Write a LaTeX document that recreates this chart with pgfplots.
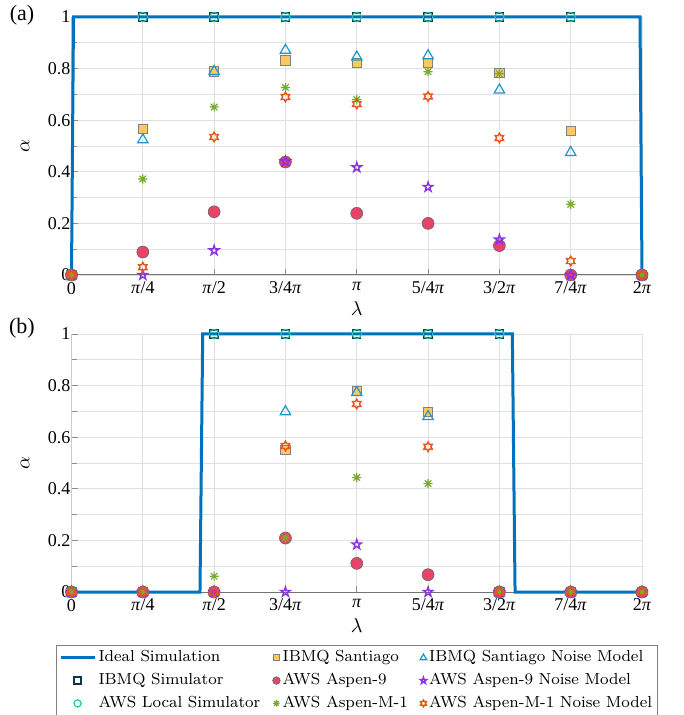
\documentclass[border=0pt]{standalone}
\usepackage{pgfplots}
\pgfplotsset{compat=1.18}
\usepackage{pgfplotstable}
\usepackage{fontspec}
\newfontfamily\tnr{Liberation Serif}

\definecolor{cideal}{RGB}{0,114,189}
\definecolor{cibmsim}{RGB}{15,55,75}
\definecolor{clocal}{RGB}{30,200,170}
\definecolor{csant}{RGB}{252,200,98}
\definecolor{csantnm}{RGB}{30,150,200}
\definecolor{caspen}{RGB}{232,67,104}
\definecolor{caspennm}{RGB}{140,50,230}
\definecolor{cm1}{RGB}{119,172,48}
\definecolor{cm1nm}{RGB}{230,85,25}

\pgfdeclareplotmark{pentagram}{%
  \pgfpathmoveto{\pgfpointpolar{90}{\pgfplotmarksize}}%
  \pgfpathlineto{\pgfpointpolar{126}{0.382\pgfplotmarksize}}%
  \pgfpathlineto{\pgfpointpolar{162}{\pgfplotmarksize}}%
  \pgfpathlineto{\pgfpointpolar{198}{0.382\pgfplotmarksize}}%
  \pgfpathlineto{\pgfpointpolar{234}{\pgfplotmarksize}}%
  \pgfpathlineto{\pgfpointpolar{270}{0.382\pgfplotmarksize}}%
  \pgfpathlineto{\pgfpointpolar{306}{\pgfplotmarksize}}%
  \pgfpathlineto{\pgfpointpolar{342}{0.382\pgfplotmarksize}}%
  \pgfpathlineto{\pgfpointpolar{18}{\pgfplotmarksize}}%
  \pgfpathlineto{\pgfpointpolar{54}{0.382\pgfplotmarksize}}%
  \pgfpathclose\pgfusepathqstroke}
\pgfdeclareplotmark{hexagram}{%
  \pgfpathmoveto{\pgfpointpolar{90}{\pgfplotmarksize}}%
  \pgfpathlineto{\pgfpointpolar{120}{0.577\pgfplotmarksize}}%
  \pgfpathlineto{\pgfpointpolar{150}{\pgfplotmarksize}}%
  \pgfpathlineto{\pgfpointpolar{180}{0.577\pgfplotmarksize}}%
  \pgfpathlineto{\pgfpointpolar{210}{\pgfplotmarksize}}%
  \pgfpathlineto{\pgfpointpolar{240}{0.577\pgfplotmarksize}}%
  \pgfpathlineto{\pgfpointpolar{270}{\pgfplotmarksize}}%
  \pgfpathlineto{\pgfpointpolar{300}{0.577\pgfplotmarksize}}%
  \pgfpathlineto{\pgfpointpolar{330}{\pgfplotmarksize}}%
  \pgfpathlineto{\pgfpointpolar{0}{0.577\pgfplotmarksize}}%
  \pgfpathlineto{\pgfpointpolar{30}{\pgfplotmarksize}}%
  \pgfpathlineto{\pgfpointpolar{60}{0.577\pgfplotmarksize}}%
  \pgfpathclose\pgfusepathqstroke}
\pgfdeclareplotmark{asteight}{%
  \pgfpathmoveto{\pgfpoint{-\pgfplotmarksize}{0pt}}\pgfpathlineto{\pgfpoint{\pgfplotmarksize}{0pt}}%
  \pgfpathmoveto{\pgfpoint{0pt}{-\pgfplotmarksize}}\pgfpathlineto{\pgfpoint{0pt}{\pgfplotmarksize}}%
  \pgfpathmoveto{\pgfpointpolar{45}{\pgfplotmarksize}}\pgfpathlineto{\pgfpointpolar{225}{\pgfplotmarksize}}%
  \pgfpathmoveto{\pgfpointpolar{135}{\pgfplotmarksize}}\pgfpathlineto{\pgfpointpolar{315}{\pgfplotmarksize}}%
  \pgfusepathqstroke}

\pgfplotsset{
  s ideal/.style={cideal, line width=1.5pt, no markers},
  s sim/.style={only marks, mark=square, mark size=2pt, mark options={draw=cibmsim, line width=0.7pt}},
  s loc/.style={only marks, mark=o, mark size=2.3pt, mark options={draw=clocal, line width=0.6pt}},
  s sant/.style={only marks, mark=square*, mark size=2.3pt, mark options={draw=gray, fill=csant, line width=0.4pt}},
  s santnm/.style={only marks, mark=triangle, mark size=3pt, mark options={draw=csantnm, line width=0.6pt}},
  s asp/.style={only marks, mark=*, mark size=3pt, mark options={draw=black!60, fill=caspen, line width=0.3pt}},
  s aspnm/.style={only marks, mark=pentagram, mark size=2.5pt, mark options={draw=caspennm, line width=0.7pt}},
  s m1/.style={only marks, mark=asteight, mark size=2.3pt, mark options={draw=cm1, line width=0.6pt}},
  s m1nm/.style={only marks, mark=hexagram, mark size=2.4pt, mark options={draw=cm1nm, line width=0.7pt}},
  panel/.style={
    width=285.25pt, height=129pt, scale only axis,
    xmin=0, xmax=6.283185, ymin=0, ymax=1,
    xtick={0,0.785398,1.570796,2.356194,3.141593,3.926991,4.712389,5.497787,6.283185},
    xticklabels={0,{\textit{π}/4},{\textit{π}/2},{3/4\textit{π}},{\textit{π}},{5/4\textit{π}},{3/2\textit{π}},{7/4\textit{π}},{2\textit{π}}},
    ytick={0,0.2,0.4,0.6,0.8,1},
    minor ytick={0.1,0.3,0.5,0.7,0.9},
    grid=both,
    major grid style={black!12, line width=0.4pt},
    minor grid style={black!12, line width=0.4pt},
    axis x line*=bottom, axis y line*=left,
    x axis line style={black!55, line width=0.5pt},
    y axis line style={black!20, line width=0.5pt},
    tick style={black!45, line width=0.4pt},
    tick align=inside,
    major tick length=3pt, minor tick length=2.5pt,
    ticklabel style={font=\tnr\fontsize{9}{10}\selectfont},
    /pgf/number format/assume math mode=true,
    yticklabel style={/pgf/number format/fixed, /pgf/number format/precision=1, xshift=3pt},
    xlabel={$\lambda$}, ylabel={$\alpha$},
    xlabel style={at={(axis description cs:0.5,0)}, anchor=center, yshift=-17pt, font=\fontsize{10}{12}\selectfont},
    ylabel style={at={(axis description cs:-0.0815,0.5)}, anchor=center, font=\fontsize{10}{12}\selectfont},
    clip=false,
  }
}

\pgfplotstableread{
x sim loc sant santnm asp aspnm m1 m1nm
0 0 0 0 0 0 0 0 0
0.785398 1 1 0.566 0.524 0.089 0.0 0.372 0.03
1.570796 1 1 0.789 0.789 0.245 0.095 0.651 0.535
2.356194 1 1 0.832 0.871 0.438 0.44 0.727 0.69
3.141593 1 1 0.822 0.845 0.239 0.417 0.68 0.663
3.926991 1 1 0.822 0.85 0.2 0.341 0.788 0.692
4.712389 1 1 0.784 0.717 0.114 0.137 0.78 0.531
5.497787 1 1 0.56 0.475 0 0 0.274 0.054
6.283185 0 0 0 0 0 0 0 0
}\dataA

\pgfplotstableread{
x sim loc sant santnm asp aspnm m1 m1nm
0 0 0 0 0 0 0 0 0
0.785398 0 0 0 0 0 0 0 0
1.570796 1 1 0 0 0 0 0.061 0
2.356194 1 1 0.55 0.699 0.209 0 0.209 0.566
3.141593 1 1 0.781 0.773 0.111 0.184 0.444 0.729
3.926991 1 1 0.699 0.68 0.067 0 0.42 0.563
4.712389 1 1 0 0 0 0 0 0
5.497787 0 0 0 0 0 0 0 0
6.283185 0 0 0 0 0 0 0 0
}\dataB

\begin{document}
\begin{tikzpicture}
\useasboundingbox (-35.75pt,-220pt) rectangle (305.75pt,137.5pt);
\begin{axis}[panel, at={(0,0)}, anchor=south west]
\addplot[s ideal] coordinates {(0,0) (0.022,1) (6.261,1) (6.283185,0)};
\addplot[s sim] table[x=x,y=sim] {\dataA};
\addplot[s loc] table[x=x,y=loc] {\dataA};
\addplot[s sant] table[x=x,y=sant] {\dataA};
\addplot[s santnm] table[x=x,y=santnm] {\dataA};
\addplot[s asp] table[x=x,y=asp] {\dataA};
\addplot[s aspnm] table[x=x,y=aspnm] {\dataA};
\addplot[s m1] table[x=x,y=m1] {\dataA};
\addplot[s m1nm] table[x=x,y=m1nm] {\dataA};
\end{axis}
\begin{axis}[panel, at={(0,-158.5pt)}, anchor=south west,
  legend style={at={(axis description cs:0.5,-0.205)}, anchor=north,
    legend columns=3, draw=black!50, line width=0.4pt,
    font=\fontsize{8}{9}\selectfont,
    nodes={inner sep=1.2pt},
    /tikz/every even column/.append style={column sep=5pt},
    row sep=1.8pt, inner sep=1.5pt},
  legend cell align=left]
\addplot[s ideal, forget plot] coordinates {(0,0) (1.415,0) (1.445,1) (4.855,1) (4.885,0) (6.283185,0)};
\addplot[s sim, forget plot] table[x=x,y=sim] {\dataB};
\addplot[s loc, forget plot] table[x=x,y=loc] {\dataB};
\addplot[s sant, forget plot] table[x=x,y=sant] {\dataB};
\addplot[s santnm, forget plot] table[x=x,y=santnm] {\dataB};
\addplot[s asp, forget plot] table[x=x,y=asp] {\dataB};
\addplot[s aspnm, forget plot] table[x=x,y=aspnm] {\dataB};
\addplot[s m1, forget plot] table[x=x,y=m1] {\dataB};
\addplot[s m1nm, forget plot] table[x=x,y=m1nm] {\dataB};
\addlegendimage{s ideal}
\addlegendentry{Ideal Simulation}
\addlegendimage{s sant, mark size=1.5pt}
\addlegendentry{IBMQ Santiago}
\addlegendimage{s santnm, mark size=1.9pt}
\addlegendentry{IBMQ Santiago Noise Model}
\addlegendimage{s sim, mark size=1.7pt}
\addlegendentry{IBMQ Simulator}
\addlegendimage{s asp, mark size=1.9pt}
\addlegendentry{AWS Aspen-9}
\addlegendimage{s aspnm, mark size=1.7pt}
\addlegendentry{AWS Aspen-9 Noise Model}
\addlegendimage{s loc, mark size=1.8pt}
\addlegendentry{AWS Local Simulator}
\addlegendimage{s m1, mark size=1.6pt}
\addlegendentry{AWS Aspen-M-1}
\addlegendimage{s m1nm, mark size=1.7pt}
\addlegendentry{AWS Aspen-M-1 Noise Model}
\end{axis}
\node[font=\tnr\fontsize{11}{12}\selectfont] at (-24.75pt,130pt) {(a)};
\node[font=\tnr\fontsize{11}{12}\selectfont] at (-24.75pt,-26.5pt) {(b)};
\end{tikzpicture}
\end{document}
